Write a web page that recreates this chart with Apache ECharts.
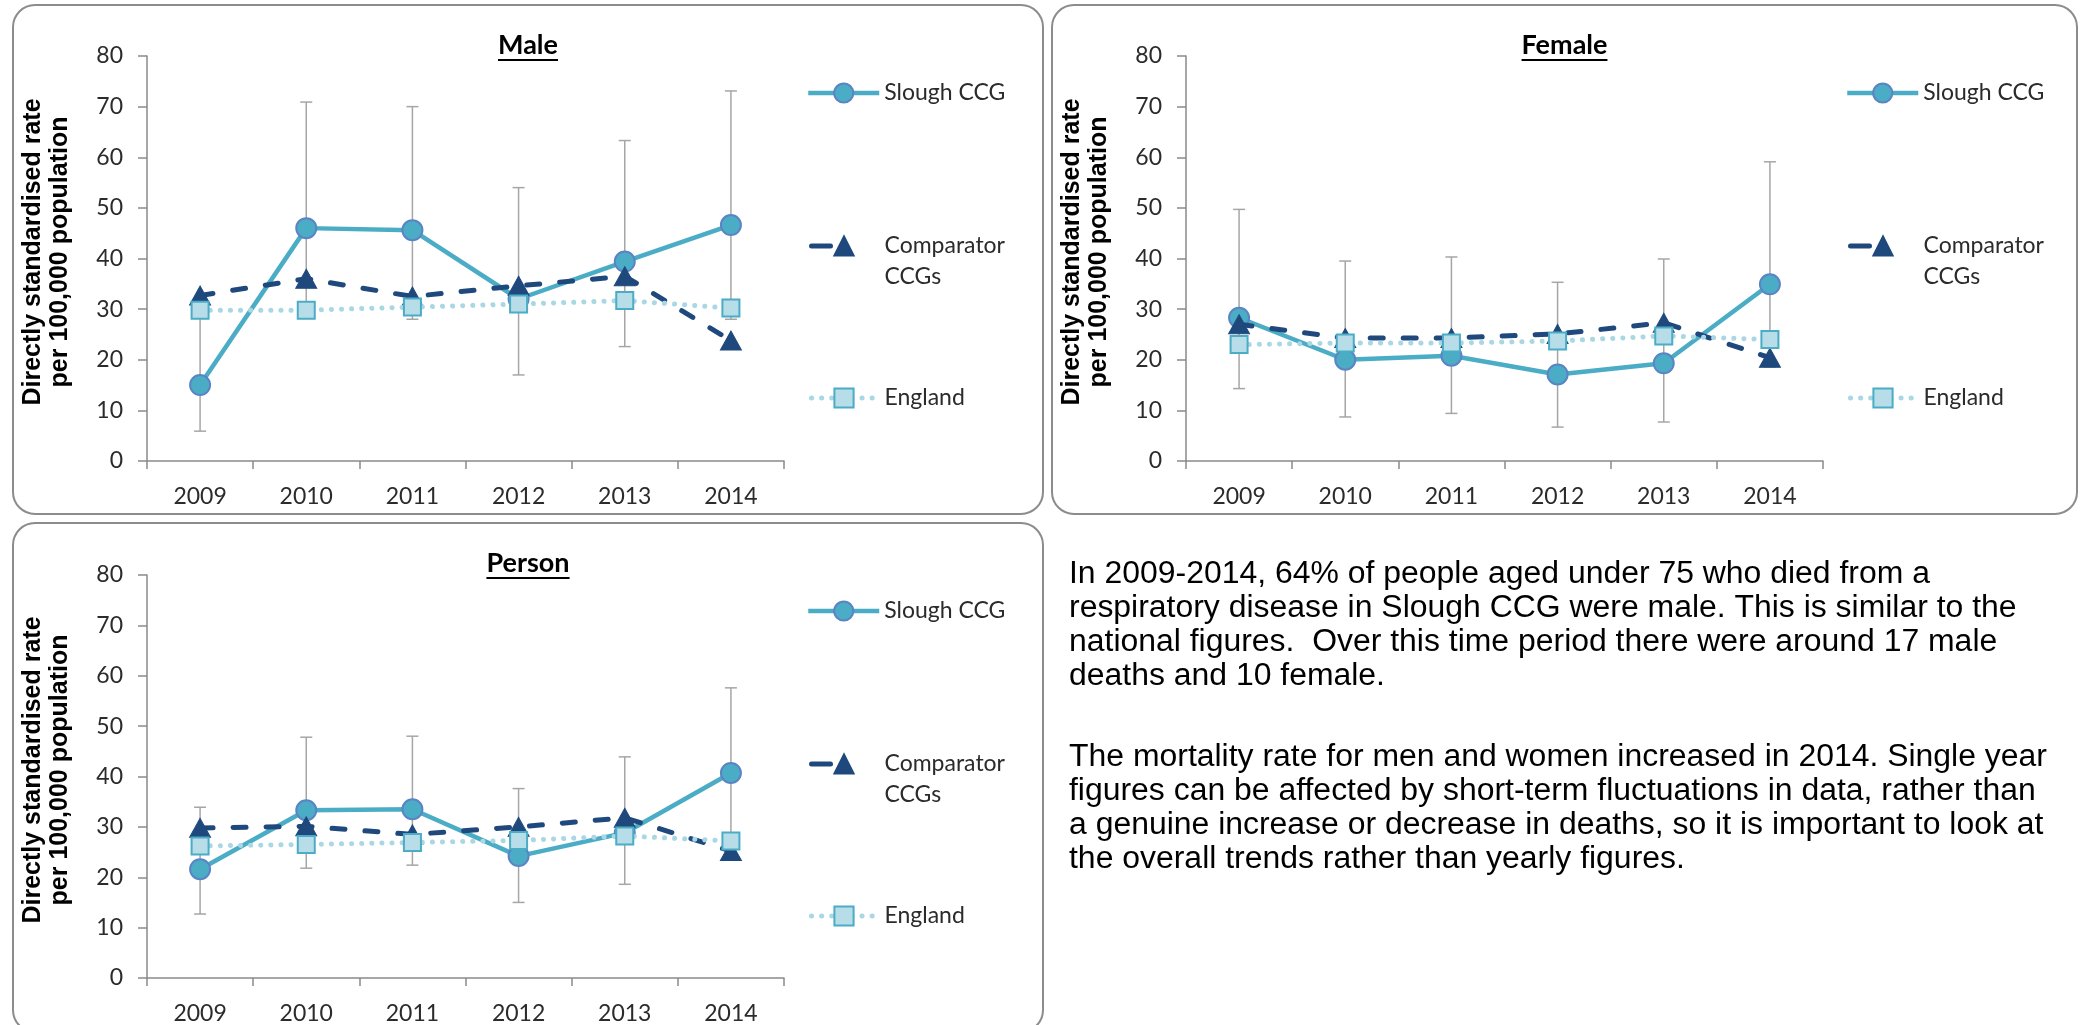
<!DOCTYPE html>
<html>
<head>
<meta charset="utf-8">
<title>Respiratory disease mortality under 75 – Slough CCG</title>
<script src="https://cdn.jsdelivr.net/npm/echarts@6.0.0/dist/echarts.min.js"></script>
<style>
  html, body { margin: 0; padding: 0; background: #ffffff; }
  #chart { width: 2083px; height: 1025px; }
</style>
</head>
<body>
<div id="chart"></div>
<script>
// ---- Data: directly standardised rate per 100,000 population ----
const years = ['2009', '2010', '2011', '2012', '2013', '2014'];
const yAxisMin = 0;
const yAxisMax = 80;
const yAxisStep = 10;

const maleSlough      = [15.0, 46.0, 45.6, 32.0, 39.4, 46.6];
const maleSloughLow   = [5.9, 29.5, 28.0, 17.0, 22.6, 28.0];
const maleSloughHigh  = [30.5, 70.9, 70.0, 54.0, 63.3, 73.1];
const maleComparator  = [32.7, 36.0, 32.5, 34.6, 36.5, 23.8];
const maleEngland     = [29.8, 29.8, 30.4, 31.0, 31.7, 30.2];

const femaleSlough     = [28.3, 20.0, 20.8, 17.1, 19.3, 34.9];
const femaleSloughLow  = [14.3, 8.7, 9.4, 6.7, 7.7, 18.6];
const femaleSloughHigh = [49.7, 39.5, 40.3, 35.3, 39.9, 59.1];
const femaleComparator = [27.0, 24.3, 24.3, 25.1, 27.3, 20.4];
const femaleEngland    = [23.0, 23.3, 23.3, 23.7, 24.7, 24.0];

const personSlough     = [21.6, 33.3, 33.5, 24.2, 28.8, 40.7];
const personSloughLow  = [12.7, 21.8, 22.4, 15.0, 18.6, 26.5];
const personSloughHigh = [33.9, 47.8, 48.0, 37.6, 43.9, 57.6];
const personComparator = [29.8, 30.1, 28.5, 30.0, 31.8, 25.2];
const personEngland    = [26.2, 26.5, 26.9, 27.3, 28.2, 27.2];

const seriesNames = ['Slough CCG', 'Comparator CCGs', 'England'];
const axisName = 'Directly standardised rate\nper 100,000 population';

const noteParagraphs = [
  ['In 2009-2014, 64% of people aged under 75 who died from a',
   'respiratory disease in Slough CCG were male. This is similar to the',
   'national figures.  Over this time period there were around 17 male',
   'deaths and 10 female.'],
  ['The mortality rate for men and women increased in 2014. Single year',
   'figures can be affected by short-term fluctuations in data, rather than',
   'a genuine increase or decrease in deaths, so it is important to look at',
   'the overall trends rather than yearly figures.']
];

// ---- Layout ----
const panels = [
  { title: 'Male',   box: { x: 13,   y: 5,   w: 1030, h: 509 }, grid: { left: 147,  top: 56,  width: 637, height: 405 },
    slough: maleSlough, low: maleSloughLow, high: maleSloughHigh, comparator: maleComparator, england: maleEngland },
  { title: 'Female', box: { x: 1052, y: 5,   w: 1025, h: 509 }, grid: { left: 1186, top: 56,  width: 637, height: 405 },
    slough: femaleSlough, low: femaleSloughLow, high: femaleSloughHigh, comparator: femaleComparator, england: femaleEngland },
  { title: 'Person', box: { x: 13,   y: 523, w: 1030, h: 509 }, grid: { left: 147,  top: 575, width: 637, height: 404 },
    slough: personSlough, low: personSloughLow, high: personSloughHigh, comparator: personComparator, england: personEngland }
];

const FONT = 'Lato';
const TEXT_COLOR = '#2b2b2b';
const AXIS_COLOR = '#8a8a8a';
const SLOUGH_COLOR = '#4BACC6';
const SLOUGH_BORDER = '#5B84C4';
const COMPARATOR_COLOR = '#1F497D';
const ENGLAND_LINE = '#A9D7E4';
const ENGLAND_FILL = '#B7DEE8';
const ERROR_COLOR = '#A6A6A6';

const sloughLine = { color: SLOUGH_COLOR, width: 4.5 };
const comparatorLine = { color: COMPARATOR_COLOR, width: 5, type: [13, 20], cap: 'round' };
const englandLine = { color: ENGLAND_LINE, width: 5, type: [0.1, 10], cap: 'round' };

const measureCtx = document.createElement('canvas').getContext('2d');
function textWidth(text, font) {
  measureCtx.font = font;
  return measureCtx.measureText(text).width;
}

const option = {
  animation: false,
  backgroundColor: '#ffffff',
  grid: [], xAxis: [], yAxis: [], series: [], legend: [], graphic: []
};

panels.forEach((p, i) => {
  const b = p.box;

  option.grid.push({ left: p.grid.left, top: p.grid.top, width: p.grid.width, height: p.grid.height });

  option.xAxis.push({
    type: 'category', gridIndex: i, data: years, boundaryGap: true,
    axisLine: { show: true, lineStyle: { color: AXIS_COLOR, width: 1.5 } },
    axisTick: { show: true, length: 8, alignWithLabel: false, lineStyle: { color: AXIS_COLOR, width: 1.5 } },
    axisLabel: { margin: 24, fontFamily: FONT, fontSize: 23, color: TEXT_COLOR, interval: 0 },
    splitLine: { show: false }
  });

  option.yAxis.push({
    type: 'value', gridIndex: i, min: yAxisMin, max: yAxisMax, interval: yAxisStep,
    axisLine: { show: true, lineStyle: { color: AXIS_COLOR, width: 1.5 } },
    axisTick: { show: true, length: 9, lineStyle: { color: AXIS_COLOR, width: 1.5 } },
    axisLabel: { margin: 24, fontFamily: FONT, fontSize: 23, color: TEXT_COLOR, showMinLabel: true, showMaxLabel: true },
    splitLine: { show: false }
  });

  // confidence interval whiskers for Slough CCG
  option.series.push({
    type: 'custom', name: 'Slough CCG 95% CI', xAxisIndex: i, yAxisIndex: i, z: 1, silent: true,
    data: years.map((_, k) => [k, p.low[k], p.high[k]]),
    encode: { x: 0, y: [1, 2] },
    renderItem: (params, api) => {
      const lo = api.coord([api.value(0), api.value(1)]);
      const hi = api.coord([api.value(0), api.value(2)]);
      const hw = 6;
      const style = { stroke: ERROR_COLOR, lineWidth: 1.5 };
      return {
        type: 'group',
        children: [
          { type: 'line', shape: { x1: lo[0], y1: lo[1], x2: hi[0], y2: hi[1] }, style },
          { type: 'line', shape: { x1: lo[0] - hw, y1: lo[1], x2: lo[0] + hw, y2: lo[1] }, style },
          { type: 'line', shape: { x1: hi[0] - hw, y1: hi[1], x2: hi[0] + hw, y2: hi[1] }, style }
        ]
      };
    }
  });

  option.series.push({
    type: 'line', name: seriesNames[0], xAxisIndex: i, yAxisIndex: i, z: 2,
    data: p.slough,
    symbol: 'circle', symbolSize: 20,
    lineStyle: sloughLine,
    itemStyle: { color: SLOUGH_COLOR, borderColor: SLOUGH_BORDER, borderWidth: 2 }
  });

  option.series.push({
    type: 'line', name: seriesNames[1], xAxisIndex: i, yAxisIndex: i, z: 3,
    data: p.comparator,
    symbol: 'triangle', symbolSize: [21, 19],
    lineStyle: comparatorLine,
    itemStyle: { color: COMPARATOR_COLOR, borderColor: COMPARATOR_COLOR, borderWidth: 1 }
  });

  option.series.push({
    type: 'line', name: seriesNames[2], xAxisIndex: i, yAxisIndex: i, z: 4,
    data: p.england,
    symbol: 'rect', symbolSize: 17,
    lineStyle: englandLine,
    itemStyle: { color: ENGLAND_FILL, borderColor: SLOUGH_COLOR, borderWidth: 2 }
  });

  // legend entries, one block per series
  const legendLeft = b.x + 793;
  const legendBase = {
    orient: 'vertical', left: legendLeft, padding: 0, itemWidth: 71, itemHeight: 24,
    selectedMode: false,
    textStyle: { fontFamily: FONT, fontSize: 23, color: TEXT_COLOR, lineHeight: 24 }
  };
  option.legend.push(Object.assign({}, legendBase, {
    data: [seriesNames[0]], top: b.y + 88 - 12, lineStyle: sloughLine
  }));
  option.legend.push(Object.assign({}, legendBase, {
    data: [seriesNames[1]], top: b.y + 241 - 46.5,
    lineStyle: { color: COMPARATOR_COLOR, width: 5, type: [19, 80], cap: 'round', dashOffset: -3 },
    formatter: () => ' \nComparator\nCCGs',
    textStyle: { fontFamily: FONT, fontSize: 23, color: TEXT_COLOR, lineHeight: 31 }
  }));
  option.legend.push(Object.assign({}, legendBase, {
    data: [seriesNames[2]], top: b.y + 393 - 12, lineStyle: englandLine
  }));

  // panel frame
  option.graphic.push({
    type: 'rect', z: -10, silent: true,
    shape: { x: b.x, y: b.y, width: b.w, height: b.h, r: 22 },
    style: { fill: 'transparent', stroke: '#8c8c8c', lineWidth: 2 }
  });

  // panel heading, underlined
  const titleFont = 'bold 27px ' + FONT;
  const cx = b.x + b.w / 2;
  const tw = textWidth(p.title, titleFont);
  option.graphic.push({
    type: 'text', x: cx, y: b.y + 40, silent: true,
    style: { text: p.title, font: titleFont, fill: '#000000', align: 'center', verticalAlign: 'middle' }
  });
  option.graphic.push({
    type: 'line', silent: true,
    shape: { x1: cx - tw / 2, y1: b.y + 55, x2: cx + tw / 2, y2: b.y + 55 },
    style: { stroke: '#000000', lineWidth: 2 }
  });

  // y-axis title
  option.graphic.push({
    type: 'text', x: b.x + 33.5, y: b.y + 247, rotation: Math.PI / 2, silent: true,
    style: {
      text: axisName, font: 'bold 25px "Liberation Sans", Arial, sans-serif', fill: '#000000',
      align: 'center', verticalAlign: 'middle', lineHeight: 27
    }
  });
});

// commentary text beside the person panel
const noteTops = [574, 757];
noteParagraphs.forEach((lines, pi) => {
  lines.forEach((line, li) => {
    option.graphic.push({
      type: 'text', x: 1069, y: noteTops[pi] + li * 34, scaleX: 1.03, silent: true,
      style: {
        text: line, font: '31px "Liberation Sans", Arial, sans-serif', fill: '#000000',
        align: 'left', verticalAlign: 'middle'
      }
    });
  });
});

const chart = echarts.init(document.getElementById('chart'), null, { renderer: 'canvas' });
chart.setOption(option);
</script>
</body>
</html>
